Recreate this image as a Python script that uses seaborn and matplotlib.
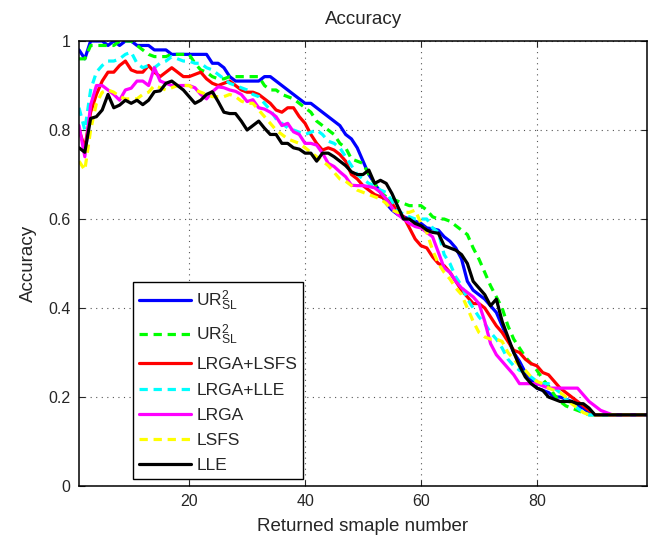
import numpy as np
import pandas as pd
import matplotlib
matplotlib.use("Agg")
import matplotlib.pyplot as plt
import seaborn as sns

# Returned sample number (x axis)
sample_number = list(range(1, 100))

ur_sl_solid = [
    0.98, 0.96, 1.00, 1.00, 1.00, 0.99, 1.00, 0.99, 1.00, 1.00,
    0.99, 0.99, 0.99, 0.98, 0.98, 0.98, 0.97, 0.97, 0.97, 0.97,
    0.97, 0.97, 0.97, 0.95, 0.95, 0.94, 0.92, 0.91, 0.91, 0.91,
    0.91, 0.91, 0.92, 0.92, 0.91, 0.90, 0.89, 0.88, 0.87, 0.86,
    0.86, 0.85, 0.84, 0.83, 0.82, 0.81, 0.79, 0.78, 0.76, 0.73,
    0.70, 0.68, 0.66, 0.635, 0.62, 0.61, 0.605, 0.60, 0.595, 0.59,
    0.58, 0.578, 0.575, 0.56, 0.55, 0.535, 0.51, 0.46, 0.44, 0.43,
    0.42, 0.405, 0.39, 0.36, 0.33, 0.30, 0.28, 0.255, 0.24, 0.22,
    0.215, 0.21, 0.20, 0.20, 0.195, 0.19, 0.18, 0.175, 0.165, 0.16,
    0.16, 0.16, 0.16, 0.16, 0.16, 0.16, 0.16, 0.16, 0.16,
]
ur_sl_dashed = [
    0.96, 0.96, 0.99, 0.99, 0.99, 0.99, 0.99, 1.00, 1.00, 1.00,
    0.99, 0.98, 0.97, 0.965, 0.965, 0.965, 0.97, 0.97, 0.97, 0.97,
    0.95, 0.935, 0.93, 0.92, 0.915, 0.915, 0.92, 0.92, 0.92, 0.92,
    0.92, 0.92, 0.90, 0.89, 0.89, 0.88, 0.875, 0.87, 0.86, 0.85,
    0.84, 0.82, 0.81, 0.80, 0.79, 0.77, 0.76, 0.735, 0.73, 0.725,
    0.70, 0.68, 0.66, 0.65, 0.645, 0.64, 0.635, 0.63, 0.63, 0.63,
    0.62, 0.605, 0.60, 0.60, 0.595, 0.585, 0.575, 0.565, 0.535, 0.51,
    0.48, 0.45, 0.425, 0.40, 0.36, 0.33, 0.31, 0.29, 0.275, 0.26,
    0.24, 0.225, 0.205, 0.19, 0.18, 0.175, 0.17, 0.165, 0.16, 0.16,
    0.16, 0.16, 0.16, 0.16, 0.16, 0.16, 0.16, 0.16, 0.16,
]
lrga_lsfs = [
    0.80, 0.76, 0.84, 0.88, 0.91, 0.93, 0.93, 0.945, 0.955, 0.935,
    0.93, 0.93, 0.945, 0.93, 0.92, 0.93, 0.94, 0.93, 0.92, 0.92,
    0.925, 0.93, 0.915, 0.905, 0.90, 0.905, 0.91, 0.90, 0.89, 0.885,
    0.885, 0.88, 0.87, 0.86, 0.845, 0.84, 0.85, 0.85, 0.83, 0.815,
    0.79, 0.77, 0.755, 0.76, 0.755, 0.745, 0.73, 0.70, 0.69, 0.675,
    0.665, 0.655, 0.65, 0.645, 0.635, 0.615, 0.605, 0.58, 0.555, 0.54,
    0.535, 0.515, 0.50, 0.495, 0.48, 0.46, 0.44, 0.425, 0.41, 0.41,
    0.40, 0.38, 0.36, 0.345, 0.325, 0.305, 0.30, 0.285, 0.275, 0.27,
    0.255, 0.25, 0.235, 0.22, 0.21, 0.20, 0.19, 0.18, 0.17, 0.16,
    0.16, 0.16, 0.16, 0.16, 0.16, 0.16, 0.16, 0.16, 0.16,
]
lrga_lle = [
    0.85, 0.80, 0.89, 0.93, 0.945, 0.955, 0.955, 0.96, 0.97, 0.975,
    0.95, 0.94, 0.945, 0.94, 0.95, 0.955, 0.965, 0.96, 0.955, 0.955,
    0.95, 0.95, 0.94, 0.935, 0.925, 0.915, 0.905, 0.90, 0.895, 0.89,
    0.88, 0.875, 0.86, 0.845, 0.825, 0.815, 0.805, 0.80, 0.795, 0.79,
    0.795, 0.80, 0.79, 0.775, 0.77, 0.76, 0.74, 0.72, 0.70, 0.69,
    0.68, 0.675, 0.665, 0.66, 0.64, 0.62, 0.61, 0.605, 0.60, 0.60,
    0.60, 0.58, 0.57, 0.52, 0.50, 0.47, 0.45, 0.42, 0.40, 0.38,
    0.365, 0.345, 0.33, 0.31, 0.285, 0.27, 0.26, 0.255, 0.245, 0.235,
    0.23, 0.23, 0.22, 0.21, 0.195, 0.185, 0.175, 0.165, 0.16, 0.16,
    0.16, 0.16, 0.16, 0.16, 0.16, 0.16, 0.16, 0.16, 0.16,
]
lrga = [
    0.81, 0.74, 0.856, 0.90, 0.90, 0.89, 0.88, 0.867, 0.89, 0.894,
    0.91, 0.91, 0.90, 0.94, 0.91, 0.905, 0.90, 0.90, 0.90, 0.90,
    0.895, 0.88, 0.87, 0.886, 0.897, 0.895, 0.89, 0.887, 0.88, 0.864,
    0.868, 0.85, 0.847, 0.84, 0.83, 0.81, 0.815, 0.796, 0.79, 0.77,
    0.77, 0.766, 0.748, 0.725, 0.718, 0.706, 0.695, 0.676, 0.675, 0.675,
    0.673, 0.67, 0.66, 0.645, 0.625, 0.61, 0.60, 0.59, 0.583, 0.58,
    0.57, 0.56, 0.525, 0.49, 0.48, 0.46, 0.445, 0.435, 0.425, 0.41,
    0.37, 0.32, 0.295, 0.28, 0.265, 0.25, 0.23, 0.23, 0.23, 0.23,
    0.225, 0.22, 0.22, 0.22, 0.22, 0.22, 0.22, 0.205, 0.19, 0.18,
    0.17, 0.165, 0.16, 0.16, 0.16, 0.16, 0.16, 0.16, 0.16,
]
lsfs = [
    0.73, 0.71, 0.80, 0.86, 0.885, 0.89, 0.885, 0.875, 0.87, 0.87,
    0.87, 0.88, 0.885, 0.90, 0.895, 0.89, 0.895, 0.90, 0.90, 0.90,
    0.89, 0.885, 0.88, 0.875, 0.875, 0.875, 0.88, 0.875, 0.865, 0.86,
    0.86, 0.845, 0.83, 0.815, 0.80, 0.79, 0.78, 0.775, 0.77, 0.76,
    0.75, 0.74, 0.73, 0.72, 0.705, 0.69, 0.685, 0.675, 0.665, 0.66,
    0.655, 0.65, 0.645, 0.635, 0.62, 0.615, 0.615, 0.615, 0.62, 0.59,
    0.57, 0.53, 0.50, 0.48, 0.465, 0.445, 0.43, 0.40, 0.37, 0.345,
    0.335, 0.33, 0.33, 0.325, 0.30, 0.285, 0.27, 0.26, 0.245, 0.235,
    0.23, 0.22, 0.215, 0.21, 0.20, 0.185, 0.175, 0.165, 0.16, 0.16,
    0.16, 0.16, 0.16, 0.16, 0.16, 0.16, 0.16, 0.16, 0.16,
]
lle = [
    0.76, 0.75, 0.826, 0.83, 0.845, 0.88, 0.85, 0.856, 0.867, 0.86,
    0.867, 0.857, 0.867, 0.886, 0.888, 0.905, 0.91, 0.90, 0.89, 0.875,
    0.86, 0.867, 0.88, 0.886, 0.864, 0.84, 0.837, 0.837, 0.82, 0.80,
    0.81, 0.82, 0.804, 0.79, 0.79, 0.77, 0.77, 0.76, 0.757, 0.748,
    0.748, 0.73, 0.748, 0.748, 0.74, 0.73, 0.72, 0.706, 0.70, 0.70,
    0.71, 0.68, 0.687, 0.68, 0.657, 0.628, 0.60, 0.60, 0.59, 0.585,
    0.575, 0.57, 0.568, 0.54, 0.535, 0.53, 0.52, 0.50, 0.46, 0.445,
    0.43, 0.405, 0.42, 0.37, 0.335, 0.30, 0.27, 0.245, 0.23, 0.22,
    0.215, 0.20, 0.195, 0.19, 0.19, 0.19, 0.185, 0.185, 0.175, 0.16,
    0.16, 0.16, 0.16, 0.16, 0.16, 0.16, 0.16, 0.16, 0.16,
]

method_labels = [
    r"$\mathregular{UR^2_{SL}}$", r"$\mathregular{UR^2_{SL}}$",
    "LRGA+LSFS", "LRGA+LLE", "LRGA", "LSFS", "LLE",
]
method_values = [ur_sl_solid, ur_sl_dashed, lrga_lsfs, lrga_lle, lrga, lsfs, lle]
line_colors = ["#0000ff", "#00ff00", "#ff0000", "#00ffff", "#ff00ff", "#ffff00", "#000000"]
line_dashed = [False, True, False, True, False, True, False]

x_ticks = [20, 40, 60, 80]
y_ticks = [0, 0.2, 0.4, 0.6, 0.8, 1.0]
y_tick_labels = ["0", "0.2", "0.4", "0.6", "0.8", "1"]

sns.set_style("ticks")
plt.rcParams["font.family"] = ["Liberation Sans", "DejaVu Sans"]
plt.rcParams["mathtext.fontset"] = "custom"
plt.rcParams["mathtext.rm"] = "Liberation Sans"

fig = plt.figure(figsize=(6.52, 5.39), dpi=100)
ax = fig.add_axes([0.1212, 0.0983, 0.8712, 0.8256])

for vals, label, color, dashed in zip(method_values, method_labels, line_colors, line_dashed):
    df = pd.DataFrame({"n": sample_number, "acc": vals})
    sns.lineplot(data=df, x="n", y="acc", ax=ax, color=color,
                 linewidth=2.3, label=label)
    if dashed:
        ax.lines[-1].set_dashes((2.6, 1.8))

ax.set_xlim(1, 99)
ax.set_ylim(0, 1)
ax.set_xticks(x_ticks)
ax.set_yticks(y_ticks)
ax.set_yticklabels(y_tick_labels)
ax.tick_params(direction="in", top=True, right=True, labelsize=11.5, length=4,
               width=0.8, pad=6)
ax.grid(True, linestyle=(0, (1, 4)), color="#555555", linewidth=0.8)
for sp in ax.spines.values():
    sp.set_linewidth(1.1)
    sp.set_color("black")

ax.set_title("Accuracy", fontsize=13.5, pad=12)
ax.set_xlabel("Returned smaple number", fontsize=13.5, labelpad=6)
ax.set_ylabel("Accuracy", fontsize=13.5, labelpad=8)

leg = ax.legend(loc="upper left", bbox_to_anchor=(0.095, 0.458), borderaxespad=0,
                fontsize=12.5, handlelength=3.0, handletextpad=0.3,
                labelspacing=0.58, borderpad=0.35, fancybox=False, framealpha=1)
leg.get_frame().set_edgecolor("black")
leg.get_frame().set_linewidth(1.0)

fig.savefig("out.png", dpi=100)
